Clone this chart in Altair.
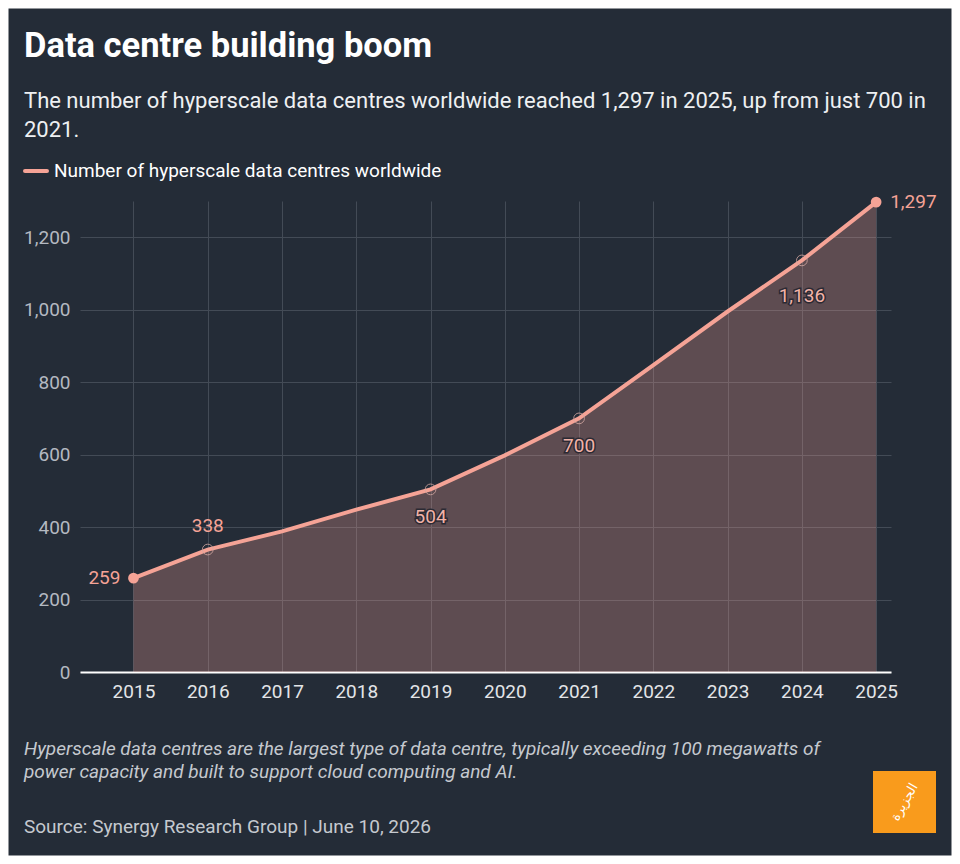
import altair as alt
import pandas as pd

# ---- data ----
years = [2015, 2016, 2017, 2018, 2019, 2020, 2021, 2022, 2023, 2024, 2025]
counts = [259, 338, 388, 448, 504, 598, 700, 847, 995, 1136, 1297]
labels = ["259", "338", "", "", "504", "", "700", "", "", "1,136", "1,297"]
label_pos = ["left", "above", "", "", "below", "", "below", "", "", "below2", "right"]
markers = ["filled", "hollow", "", "", "hollow", "", "hollow", "", "", "hollow", "filled"]
y_ticks = [0, 200, 400, 600, 800, 1000, 1200]

title_text = "Data centre building boom"
subtitle_lines = [
    "The number of hyperscale data centres worldwide reached 1,297 in 2025, up from just 700 in",
    "2021.",
]
legend_text = "Number of hyperscale data centres worldwide"
note_lines = [
    "Hyperscale data centres are the largest type of data centre, typically exceeding 100 megawatts of",
    "power capacity and built to support cloud computing and AI.",
]
source_text = "Source: Synergy Research Group | June 10, 2026"
logo_text = "الجزيرة"

df = pd.DataFrame({"year": years, "value": counts, "label": labels,
                   "pos": label_pos, "marker": markers})

BG = "#242c37"
SALMON = "#f5a396"
GRID = "#434b56"
FONT = "Roboto"

x_enc = alt.X("year:Q",
              scale=alt.Scale(domain=[2014.28, 2025.2], nice=False, zero=False),
              axis=alt.Axis(values=years, format="d", title=None, grid=True,
                            gridColor=GRID, gridWidth=1, domainColor="white",
                            domainWidth=2, ticks=False, labelColor="#e3e5e8",
                            labelFontSize=19, labelFont=FONT, labelPadding=10))
y_enc = alt.Y("value:Q",
              scale=alt.Scale(domain=[0, 1300], nice=False),
              axis=alt.Axis(values=y_ticks, format=",d", title=None, grid=True,
                            gridColor=GRID, gridWidth=1, domain=False, ticks=False,
                            labelColor="#b4b9c1", labelFontSize=19, labelFont=FONT,
                            labelPadding=10))

base = alt.Chart(df).encode(x=x_enc, y=y_enc)

area = base.mark_area(color=SALMON, opacity=0.28)
line = base.mark_line(color=SALMON, strokeWidth=4)
filled_pts = base.transform_filter(alt.datum.marker == "filled").mark_point(
    shape="circle", filled=True, size=115, color=SALMON, opacity=1)
hollow_pts = base.transform_filter(alt.datum.marker == "hollow").mark_point(
    shape="circle", filled=False, size=115, stroke="#d6aaa4", strokeWidth=1, opacity=0.8)

LFS = 19
txt = base.encode(text="label:N")
lab_left = txt.transform_filter(alt.datum.pos == "left").mark_text(
    align="right", baseline="middle", dx=-13, fontSize=LFS, font=FONT, color=SALMON)
lab_above = txt.transform_filter(alt.datum.pos == "above").mark_text(
    align="center", baseline="middle", dy=-24, fontSize=LFS, font=FONT, color=SALMON)
lab_right = txt.transform_filter(alt.datum.pos == "right").mark_text(
    align="left", baseline="middle", dx=14, fontSize=LFS, font=FONT, color=SALMON)
below_halo = []
for p, d in [("below", 28), ("below2", 36)]:
    below_halo.append(txt.transform_filter(alt.datum.pos == p).mark_text(
        align="center", baseline="middle", dy=d, fontSize=LFS, font=FONT,
        stroke="#2b2a33", strokeWidth=3, color="#2b2a33"))
    below_halo.append(txt.transform_filter(alt.datum.pos == p).mark_text(
        align="center", baseline="middle", dy=d, fontSize=LFS, font=FONT,
        color="#f2b3a8"))

one = alt.Chart(pd.DataFrame({"k": [0]}))

# offsets: plot origin at (80, 201) in page pixels
title = one.mark_text(align="left", baseline="alphabetic", font=FONT, fontSize=34.5,
                      fontWeight="bold", color="white").encode(
    x=alt.value(-56), y=alt.value(-144), text=alt.value(title_text))
subtitle = one.mark_text(align="left", baseline="alphabetic", font=FONT, fontSize=22,
                         color="#eef0f2", lineHeight=29).encode(
    x=alt.value(-56), y=alt.value(-93), text=alt.value(subtitle_lines))
legend_swatch = one.mark_rule(color=SALMON, strokeWidth=4, strokeCap="round").encode(
    x=alt.value(-55), x2=alt.value(-33), y=alt.value(-30))
legend_label = one.mark_text(align="left", baseline="middle", font=FONT, fontSize=19,
                             color="white").encode(
    x=alt.value(-26), y=alt.value(-30), text=alt.value(legend_text))
note = one.mark_text(align="left", baseline="alphabetic", font=FONT, fontSize=19,
                     fontStyle="italic", color="#c5c9cf", lineHeight=23).encode(
    x=alt.value(-56), y=alt.value(554), text=alt.value(note_lines))
source = one.mark_text(align="left", baseline="alphabetic", font=FONT, fontSize=19,
                       color="#c5c9cf").encode(
    x=alt.value(-56), y=alt.value(632), text=alt.value(source_text))
logo_box = one.mark_rect(color="#f99b1c").encode(
    x=alt.value(793), x2=alt.value(856), y=alt.value(570), y2=alt.value(632))
logo_glyph = one.mark_text(align="center", baseline="middle", font="DejaVu Sans",
                           fontSize=13, color="white", angle=300).encode(
    x=alt.value(824.5), y=alt.value(601), text=alt.value(logo_text))
frame = one.mark_rect(fillOpacity=0, stroke="white", strokeWidth=17).encode(
    x=alt.value(-80), x2=alt.value(880), y=alt.value(-201), y2=alt.value(663))

chart = alt.layer(
    area, line, hollow_pts, filled_pts, lab_left, lab_above, lab_right, *below_halo,
    title, subtitle, legend_swatch, legend_label, note, source, logo_box, logo_glyph, frame,
).properties(
    width=811, height=471, background=BG,
    autosize=alt.AutoSizeParams(type="none"),
    padding={"left": 80, "top": 201, "right": 69, "bottom": 192},
).configure_view(stroke=None)

chart.save("out.html", embed_options={"renderer": "svg", "actions": False})
